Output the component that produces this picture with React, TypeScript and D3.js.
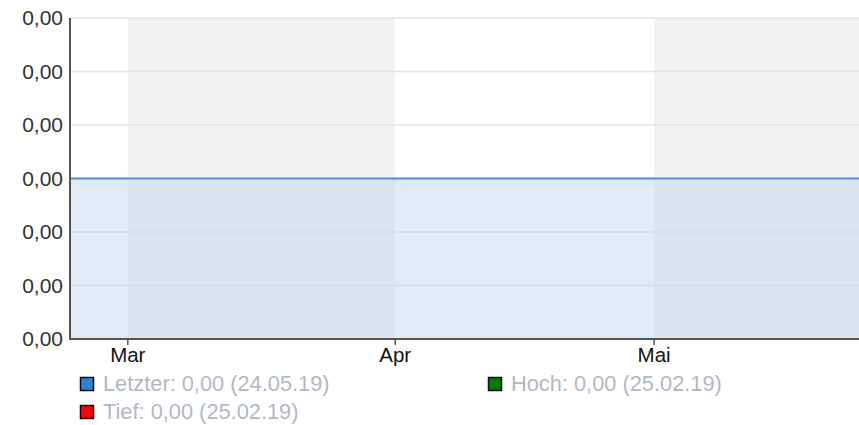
import React from "react";
import * as d3 from "d3";

const W = 859;
const H = 425;

// series: Letzter (constant)
const seriesDates = ["2019-02-22", "2019-03-01", "2019-04-01", "2019-05-02", "2019-05-24", "2019-05-25"];
const seriesValues = [0.0003, 0.0003, 0.0003, 0.0003, 0.0003, 0.0003];

const yTicks = [0, 0.0001, 0.0002, 0.0003, 0.0004, 0.0005, 0.0006];
const monthLabels = ["Feb", "Mar", "Apr", "Mai"];

const legendItems = [
  { label: "Letzter: 0,00 (24.05.19)", color: "#2f7fdc", col: 0, row: 0 },
  { label: "Hoch: 0,00 (25.02.19)", color: "#007a00", col: 1, row: 0 },
  { label: "Tief: 0,00 (25.02.19)", color: "#ff0000", col: 0, row: 1 },
];

const margin = { left: 71, right: 0, top: 18, bottom: 86 };
const FONT = "'Liberation Sans', Arial, sans-serif";

export default function App() {
  const parse = d3.timeParse("%Y-%m-%d");
  const data = seriesDates.map((d, i) => ({ date: parse(d) as Date, value: seriesValues[i] }));

  const x = d3
    .scaleTime()
    .domain([new Date(2019, 1, 22, 10), new Date(2019, 4, 24, 18)])
    .range([margin.left, W - margin.right])
    .clamp(true);
  const y = d3
    .scaleLinear()
    .domain([0, 0.0006])
    .range([H - margin.bottom, margin.top]);

  const fmt = (v: number) => d3.format(".2f")(v).replace(".", ",");

  const months = d3.timeMonth.range(d3.timeMonth.floor(x.domain()[0]), x.domain()[1]);
  const bands = months.map((m) => {
    const x0 = x(m);
    const x1 = x(d3.timeMonth.offset(m, 1));
    return { m, x0, x1, grey: m.getMonth() % 2 === 0 };
  });
  const tickMonths = d3.timeMonth.range(d3.timeMonth.ceil(x.domain()[0]), x.domain()[1]);

  const area = d3
    .area<{ date: Date; value: number }>()
    .x((d) => x(d.date))
    .y0(y(0))
    .y1((d) => y(d.value));
  const line = d3
    .line<{ date: Date; value: number }>()
    .x((d) => x(d.date))
    .y((d) => y(d.value));

  const y0 = y(0);

  return (
    <svg
      width={W}
      height={H}
      style={{ position: "absolute", left: 0, top: 0, background: "#fff" }}
      fontFamily={FONT}
    >
      {bands.map((b, i) =>
        b.grey ? (
          <rect key={i} x={b.x0} y={margin.top} width={b.x1 - b.x0} height={y0 - margin.top} fill="#f2f2f2" />
        ) : null
      )}
      {yTicks.map((t, i) => (
        <line key={i} x1={margin.left} x2={W} y1={y(t)} y2={y(t)} stroke="#e4e4e4" strokeWidth={1.5} />
      ))}
      <path d={area(data) || ""} fill="rgb(190,210,234)" fillOpacity={0.46} />
      <path d={line(data) || ""} fill="none" stroke="#4a90e2" strokeWidth={2} />
      <line x1={70} x2={70} y1={margin.top} y2={y0 + 1} stroke="#555" strokeWidth={2} />
      <line x1={69} x2={W} y1={y0} y2={y0} stroke="#555" strokeWidth={2} />
      {yTicks.map((t, i) => (
        <text key={i} x={63} y={y(t)} dy="0.35em" textAnchor="end" fontSize={21} fill="#333">
          {fmt(t)}
        </text>
      ))}
      {tickMonths.map((m, i) => (
        <g key={i}>
          <line x1={x(m)} x2={x(m)} y1={y0} y2={y0 + 6} stroke="#555" strokeWidth={1.5} />
          <text x={x(m)} y={y0 + 23} textAnchor="middle" fontSize={20.5} fill="#111">
            {monthLabels[m.getMonth() - 1]}
          </text>
        </g>
      ))}
      {legendItems.map((l, i) => {
        const lx = l.col === 0 ? 80 : 488;
        const ly = 377 + l.row * 28;
        return (
          <g key={i}>
            <rect x={lx + 0.5} y={ly + 0.5} width={13} height={13} fill={l.color} stroke="#111" strokeWidth={1.5} />
            <text x={lx + 23} y={ly + 14} fontSize={21.8} fill="#b0b9c6">
              {l.label}
            </text>
          </g>
        );
      })}
    </svg>
  );
}
